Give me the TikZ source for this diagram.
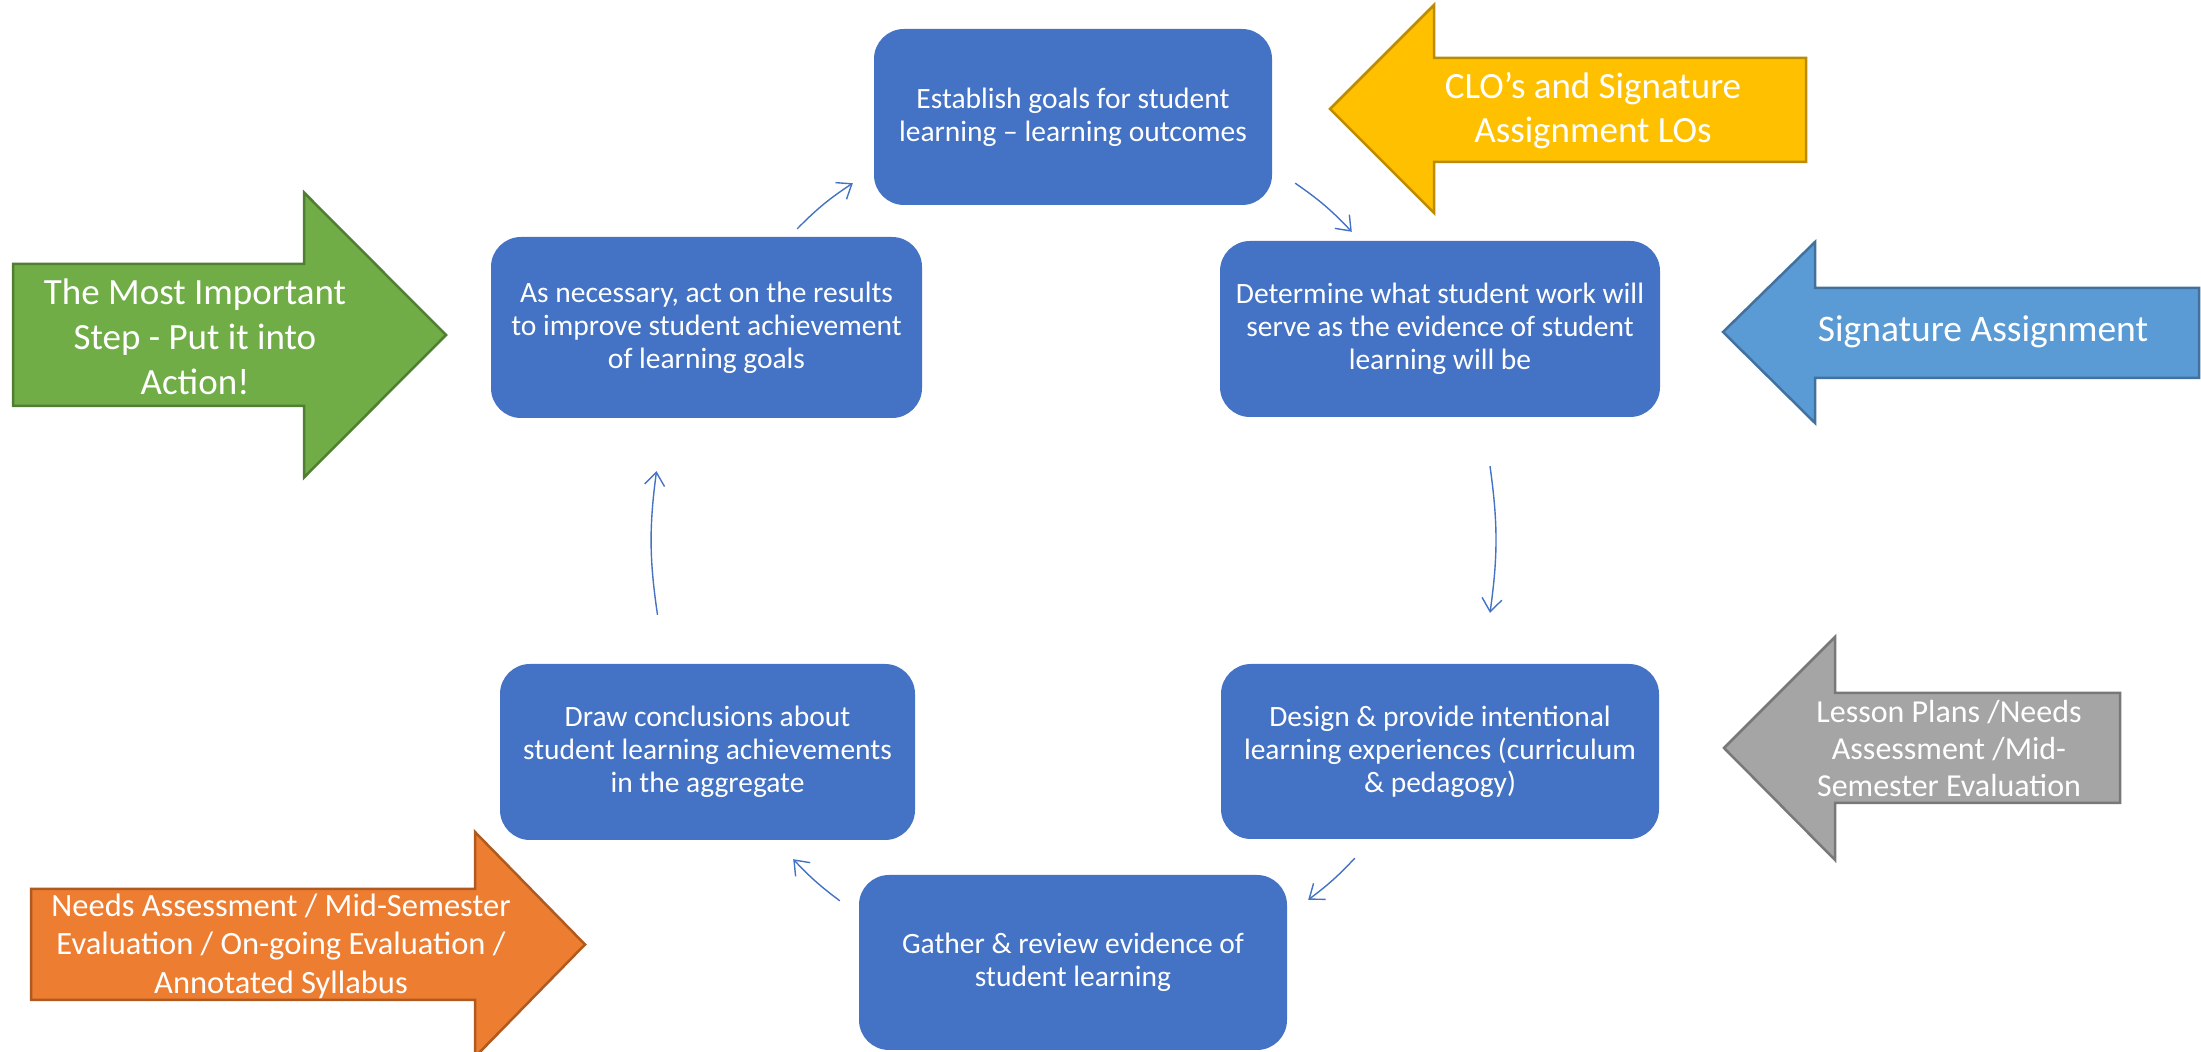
\documentclass[tikz,border=0pt]{standalone}
\usepackage{fontspec}
\setmainfont{Carlito}
\usetikzlibrary{arrows.meta, positioning}
\definecolor{stageblue}{HTML}{4472C4}
\definecolor{greenfill}{HTML}{70AD47}
\definecolor{greenline}{HTML}{507E32}
\definecolor{amberfill}{HTML}{FFC000}
\definecolor{amberline}{HTML}{BC8C00}
\definecolor{skyfill}{HTML}{5B9BD5}
\definecolor{skyline}{HTML}{41719C}
\definecolor{greyfill}{HTML}{A5A5A5}
\definecolor{greyline}{HTML}{787878}
\definecolor{orangefill}{HTML}{ED7D31}
\definecolor{orangeline}{HTML}{AE5A21}
\tikzset{
    stage/.style={rectangle, rounded corners=30pt, inner sep=0pt, align=center, fill=stageblue, text=white, font=\fontsize{29.5}{33}\selectfont},
    flow/.style={->, >={Straight Barb[length=13pt,width=20pt]}, line width=1.4pt, draw=stageblue},
    fatarrow/.style={line width=2.5pt, line join=miter},
    arrowtext/.style={inner sep=0pt, align=center, text=white}
}

\begin{document}
\begin{tikzpicture}[x=1pt, y=1pt]
        \useasboundingbox (0,0) rectangle (2201,1052);

        % Stadi del ciclo
        \node (goals) [stage, minimum width=398pt, minimum height=176pt] at (1073,935) {Establish goals for student\\learning – learning outcomes};
        \node (evidence) [stage, minimum width=440pt, minimum height=176pt] at (1440,723) {Determine what student work will\\serve as the evidence of student\\learning will be};
        \node (design) [stage, minimum width=438pt, minimum height=175pt] at (1440,300.5) {Design \& provide intentional\\learning experiences (curriculum\\\& pedagogy)};
        \node (gather) [stage, minimum width=428pt, minimum height=175pt] at (1073,89.5) {Gather \& review evidence of\\student learning};
        \node (conclude) [stage, minimum width=415pt, minimum height=176pt] at (707.5,300) {Draw conclusions about\\student learning achievements\\in the aggregate};
        \node (act) [stage, minimum width=431pt, minimum height=181pt] at (706.5,724.5) {As necessary, act on the results\\to improve student achievement\\of learning goals};

        % Frecce del ciclo
        \draw [flow] ([shift={(-125,8)}]act.north east) to[bend left=6] ([shift={(-21,22)}]goals.south west);
        \draw [flow] ([shift={(23,22)}]goals.south east) to[bend left=6] ([shift={(132,9)}]evidence.north west);
        \draw [flow] ([shift={(50,-49)}]evidence.south) to[bend left=8] ([shift={(50,51)}]design.north);
        \draw [flow] ([shift={(134,-19)}]design.south west) to[bend left=5] ([shift={(21,-25)}]gather.north east);
        \draw [flow] ([shift={(-19,-26)}]gather.north west) to[bend left=5] ([shift={(-122,-19)}]conclude.south east);
        \draw [flow] ([shift={(-50,49)}]conclude.north) to[bend left=8] ([shift={(-50,-53)}]act.south);

        % Frecce laterali
        \filldraw [fatarrow, fill=greenfill, draw=greenline] (13,788) -- (304,788) -- (304,859.5) -- (446,717) -- (304,574.5) -- (304,646) -- (13,646) -- cycle;
        \node (action) [arrowtext, font=\fontsize{37}{45}\selectfont] at (195,715) {The Most Important\\Step - Put it into\\Action!};

        \filldraw [fatarrow, fill=amberfill, draw=amberline] (1806,994) -- (1434,994) -- (1434,1047) -- (1330,943) -- (1434,839) -- (1434,890) -- (1806,890) -- cycle;
        \node (clos) [arrowtext, font=\fontsize{37}{44}\selectfont] at (1593,941) {CLO’s and Signature\\Assignment LOs};

        \filldraw [fatarrow, fill=skyfill, draw=skyline] (2199,764) -- (1815,764) -- (1815,810) -- (1723,720) -- (1815,629) -- (1815,674) -- (2199,674) -- cycle;
        \node (signature) [arrowtext, font=\fontsize{37.5}{44}\selectfont] at (1983,720) {Signature Assignment};

        \filldraw [fatarrow, fill=greyfill, draw=greyline] (2120,359) -- (1835,359) -- (1835,415) -- (1724,304) -- (1835,192) -- (1835,249) -- (2120,249) -- cycle;
        \node (plans) [arrowtext, font=\fontsize{32}{37}\selectfont] at (1949,303) {Lesson Plans /Needs\\Assessment /Mid-\\Semester Evaluation};

        \filldraw [fatarrow, fill=orangefill, draw=orangeline] (31,163) -- (475,163) -- (475,220) -- (585,107.5) -- (475,-5) -- (475,52) -- (31,52) -- cycle;
        \node (needs) [arrowtext, font=\fontsize{32.5}{38.5}\selectfont] at (281,106) {Needs Assessment / Mid-Semester\\Evaluation / On-going Evaluation /\\Annotated Syllabus};

    \end{tikzpicture}
\end{document}
